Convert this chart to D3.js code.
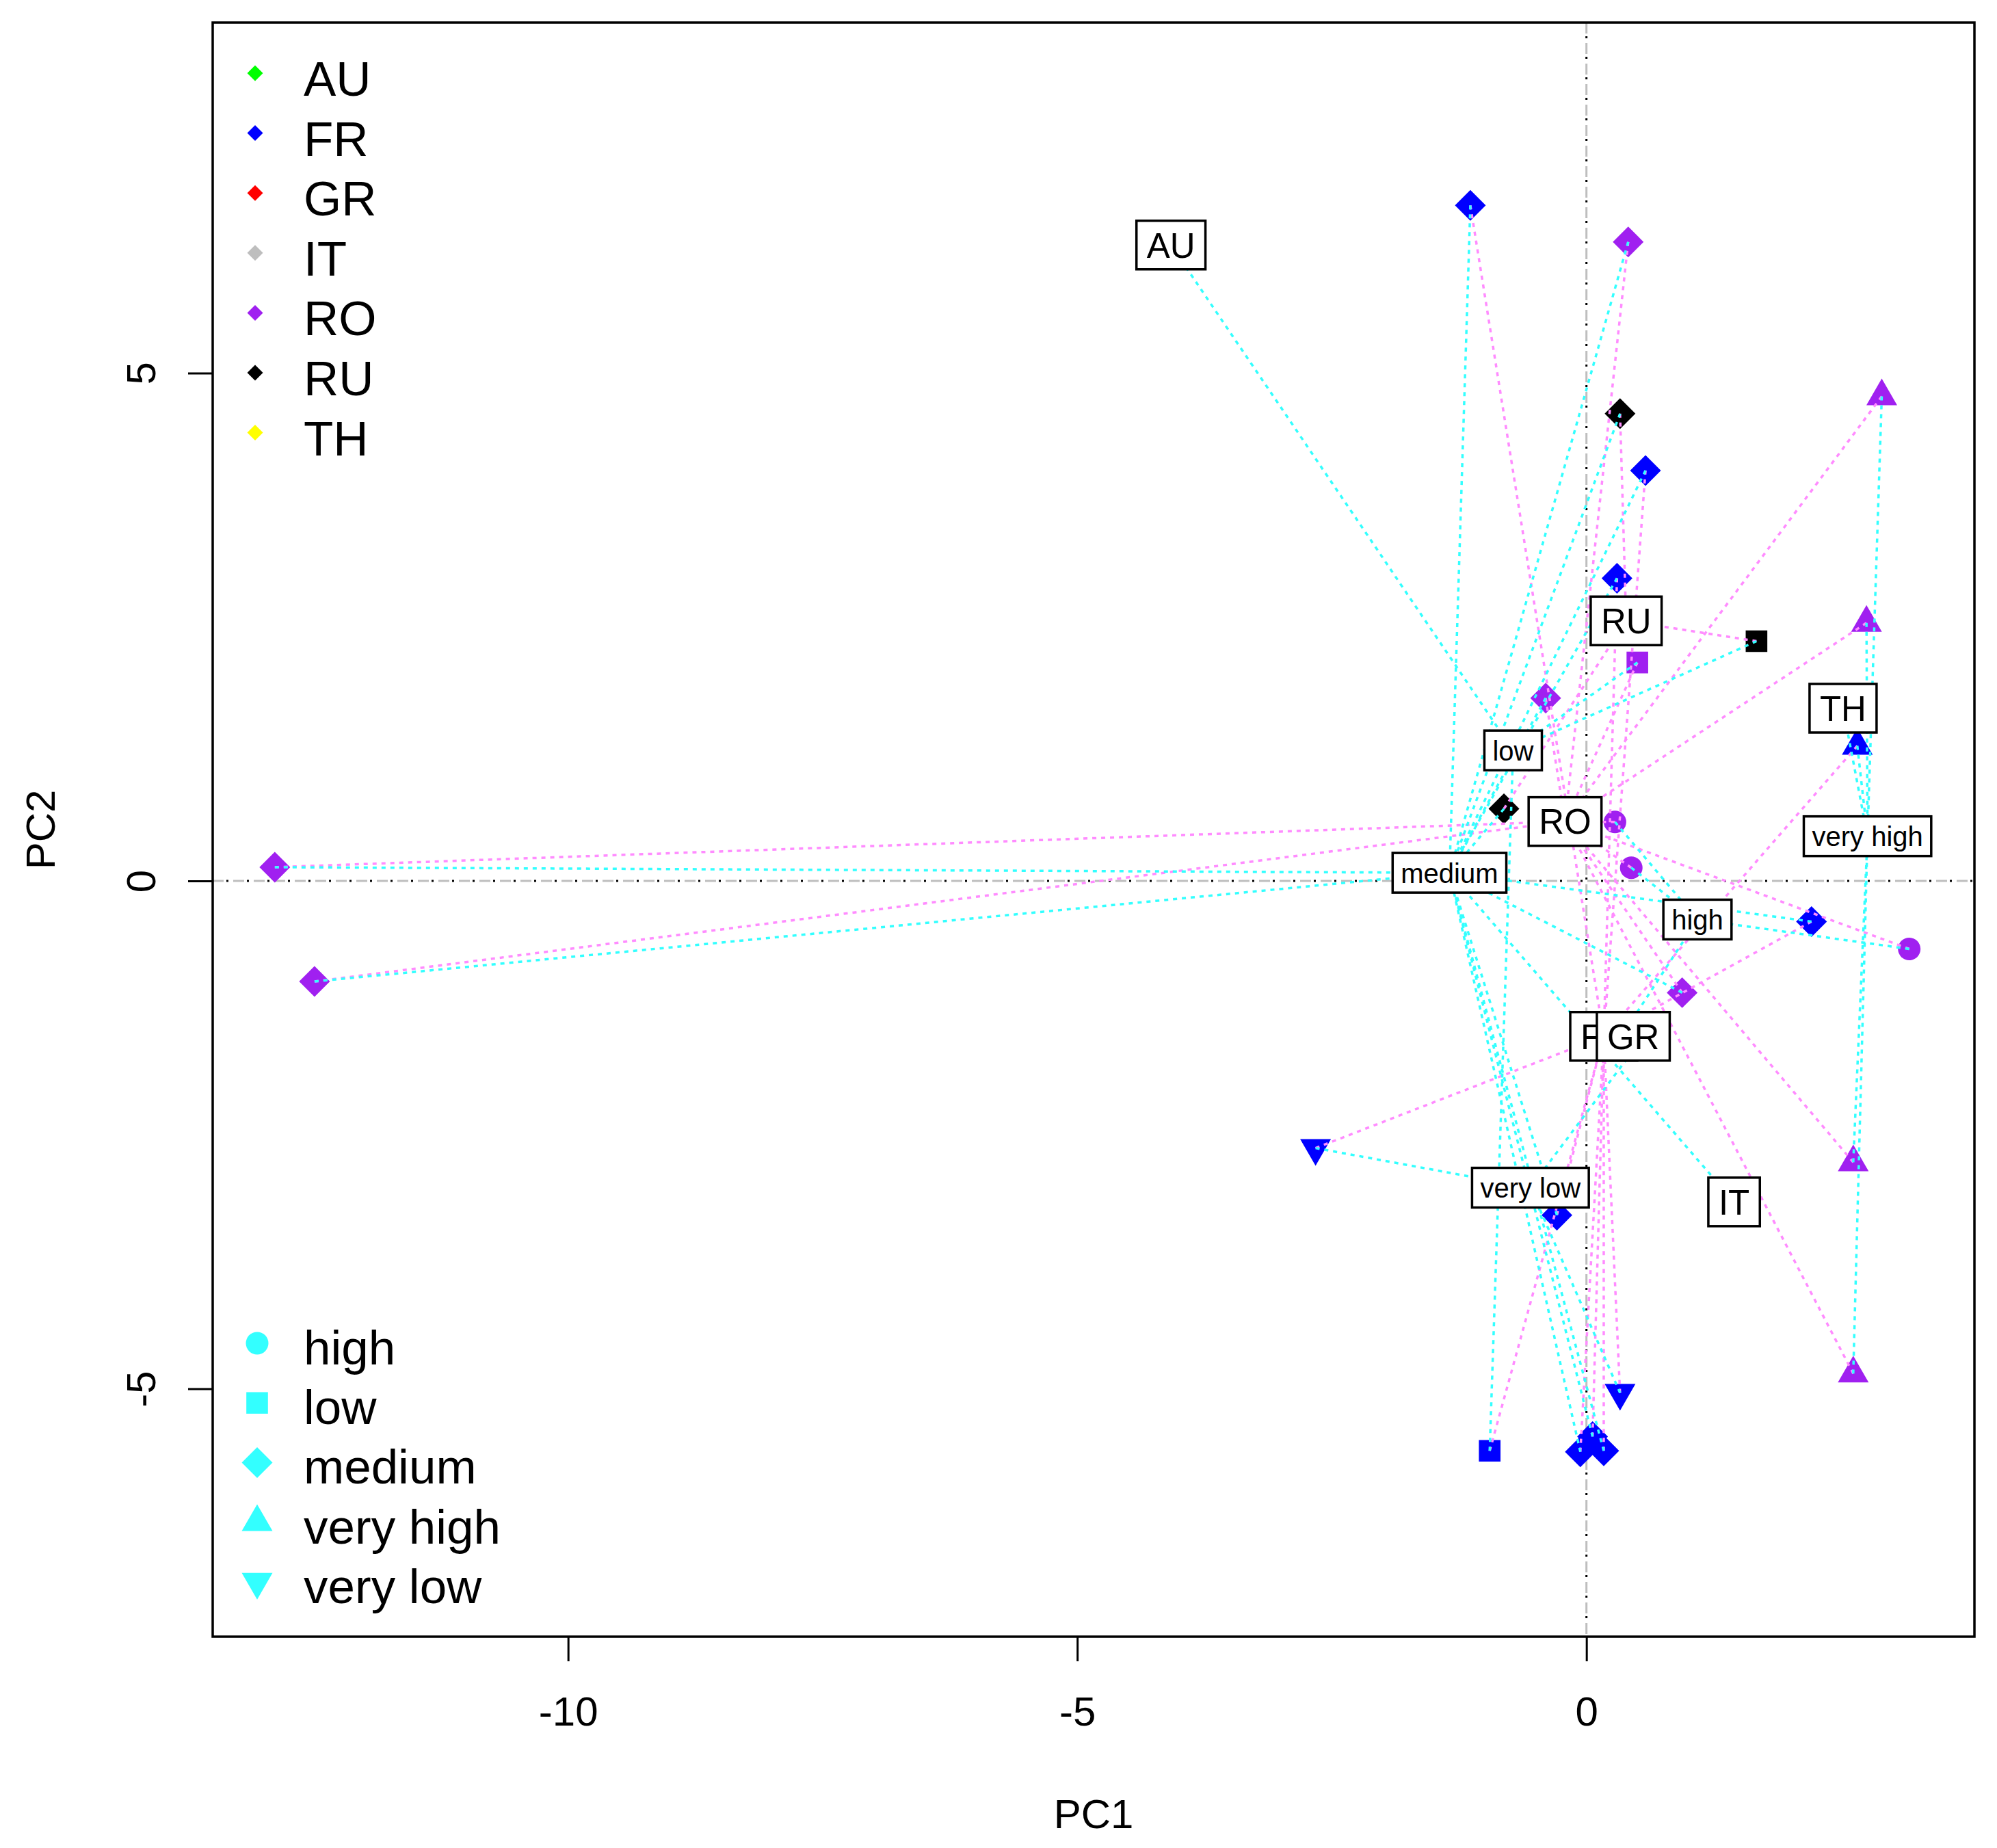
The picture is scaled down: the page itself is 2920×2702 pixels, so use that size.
<!DOCTYPE html>
<html>
<head>
<meta charset="utf-8">
<script src="https://cdn.jsdelivr.net/npm/d3@7"></script>
<style>
  body { margin: 0; background: #fff; }
  text { font-family: "Liberation Sans", Arial, sans-serif; fill: #000; }
</style>
</head>
<body>
<svg id="chart"></svg>
<script>
// countries and their colours
const countries = ["AU", "FR", "GR", "IT", "RO", "RU", "TH"];
const countryColors = ["#00ff00", "#0000ff", "#ff0000", "#bebebe", "#a020f0", "#000000", "#ffff00"];
// class labels (centres)
const countryX = [-4.08, 0.17, 0.46, 1.45, -0.21, 0.39, 2.52];
const countryY = [6.26, -1.53, -1.53, -3.16, 0.585, 2.56, 1.70];

const levels = ["high", "low", "medium", "very high", "very low"];
const levelX = [1.09, -0.72, -1.345, 2.76, -0.55];
const levelY = [-0.38, 1.285, 0.08, 0.44, -3.02];

// individual scores
const pc1 = [-1.14, 0.41, 2.90, 0.33, 0.58, 0.30, 1.67, 0.50, 2.75, -0.40,
             2.66, -0.81, 0.28, 0.44, -12.88, -12.49, 2.21, 3.17, 0.94, -2.66,
             2.62, -0.29, 2.62, 0.33, -0.95, -0.06, 0.17, 0.06,
             -4.08, 0.26, 0.66, 1.45, 2.52];
const pc2 = [6.65, 6.29, 4.77, 4.60, 4.04, 2.98, 2.36, 2.15, 2.54, 1.80,
             1.33, 0.71, 0.58, 0.13, 0.135, -0.99, -0.40, -0.67, -1.10, -2.63,
             -2.77, -3.29, -4.85, -5.04, -5.61, -5.62, -5.61, -5.47,
             6.26, -1.66, -1.40, -3.16, 1.70];
const pointCountry = ["FR", "RO", "RO", "RU", "FR", "FR", "RU", "RO", "RO", "RO",
                      "FR", "RU", "RO", "RO", "RO", "RO", "FR", "RO", "RO", "FR",
                      "RO", "FR", "RO", "FR", "FR", "FR", "FR", "FR",
                      "AU", "GR", "GR", "IT", "TH"];
const pointLevel = ["medium", "medium", "very high", "medium", "medium", "medium", "low", "low", "very high", "medium",
                    "very high", "medium", "high", "high", "medium", "medium", "medium", "high", "medium", "very low",
                    "very high", "medium", "very high", "very low", "low", "medium", "medium", "medium",
                    "low", "high", "very low", "medium", "very high"];

const xTicks = [-10, -5, 0];
const yTicks = [-5, 0, 5];

const W = 2920, H = 2702;
const box = { left: 311, right: 2887, top: 33, bottom: 2393 };

const svg = d3.select("#chart").attr("width", W).attr("height", H);

const x = d3.scaleLinear().domain([-13.49, 3.81]).range([box.left, box.right]);
const y = d3.scaleLinear().domain([8.45, -7.44]).range([box.top, box.bottom]);

// R-like diamond (square turned 45 degrees)
const diamond = {
  draw(ctx, size) {
    const r = Math.sqrt(size / 2);
    ctx.moveTo(0, -r); ctx.lineTo(r, 0); ctx.lineTo(0, r); ctx.lineTo(-r, 0); ctx.closePath();
  }
};
const levelShape = {
  "high": [d3.symbolCircle, 855, 0],
  "low": [d3.symbolSquare, 1000, 0],
  "medium": [diamond, 1012, 0],
  "very high": [d3.symbolTriangle, 877, 0],
  "very low": [d3.symbolTriangle, 877, 180]
};
const colorOf = d3.scaleOrdinal().domain(countries).range(countryColors);
const cIdx = c => countries.indexOf(c);
const lIdx = l => levels.indexOf(l);

// zero lines
const zero = svg.append("g");
function zeroLine(x1, y1, x2, y2) {
  zero.append("line").attr("x1", x1).attr("y1", y1).attr("x2", x2).attr("y2", y2)
    .attr("stroke", "#bebebe").attr("stroke-width", 3).attr("stroke-dasharray", "16 14");
  zero.append("line").attr("x1", x1).attr("y1", y1).attr("x2", x2).attr("y2", y2)
    .attr("stroke", "#000").attr("stroke-width", 3).attr("stroke-dasharray", "3 27")
    .attr("stroke-dashoffset", -20);
}
zeroLine(box.left, y(0), box.right, y(0));
zeroLine(x(0), box.top, x(0), box.bottom);

const idx = d3.range(pc1.length);

// points
svg.append("g").selectAll("path")
  .data(idx)
  .enter().append("path")
  .attr("d", i => d3.symbol().type(levelShape[pointLevel[i]][0]).size(levelShape[pointLevel[i]][1])())
  .attr("transform", i => `translate(${x(pc1[i])},${y(pc2[i])}) rotate(${levelShape[pointLevel[i]][2]})`)
  .attr("fill", i => colorOf(pointCountry[i]));

// country stars (pink) then level stars (cyan)
svg.append("g").selectAll("line")
  .data(idx)
  .enter().append("line")
  .attr("x1", i => x(pc1[i])).attr("y1", i => y(pc2[i]))
  .attr("x2", i => x(countryX[cIdx(pointCountry[i])]))
  .attr("y2", i => y(countryY[cIdx(pointCountry[i])]))
  .attr("stroke", "#ff8cff").attr("stroke-width", 3.5).attr("stroke-dasharray", "6 7");

svg.append("g").selectAll("line")
  .data(idx)
  .enter().append("line")
  .attr("x1", i => x(pc1[i])).attr("y1", i => y(pc2[i]))
  .attr("x2", i => x(levelX[lIdx(pointLevel[i])]))
  .attr("y2", i => y(levelY[lIdx(pointLevel[i])]))
  .attr("stroke", "#33ffff").attr("stroke-width", 3.5).attr("stroke-dasharray", "6 7");

// boxed labels
function boxedLabels(names, xs, ys, fs, pad, h) {
  const g = svg.append("g");
  names.forEach((name, i) => {
    const lg = g.append("g").attr("transform", `translate(${x(xs[i])},${y(ys[i])})`);
    const r = lg.append("rect");
    const t = lg.append("text").attr("text-anchor", "middle").attr("font-size", fs)
      .attr("y", fs * 0.36).text(name);
    const w = t.node().getComputedTextLength() + 2 * pad;
    r.attr("x", -w / 2).attr("y", -h / 2).attr("width", w).attr("height", h)
      .attr("fill", "#fff").attr("stroke", "#000").attr("stroke-width", 3.5);
  });
}
boxedLabels(countries, countryX, countryY, 51, 15, 71);
boxedLabels(levels, levelX, levelY, 40, 12, 58);

// axes (plain hyphen for negatives, like R)
const fmt = d => String(d);
const xAxis = svg.append("g")
  .attr("transform", `translate(0,${box.bottom})`)
  .call(d3.axisBottom(x).tickValues(xTicks).tickFormat(fmt).tickSize(36).tickSizeOuter(0))
  .attr("font-size", null).attr("font-family", null);
xAxis.select(".domain").remove();
xAxis.selectAll("line").attr("stroke-width", 3);
xAxis.selectAll("text").attr("dy", null).attr("y", 130).attr("font-size", 60);

const yAxis = svg.append("g")
  .attr("transform", `translate(${box.left},0)`)
  .call(d3.axisLeft(y).tickValues(yTicks).tickFormat(fmt).tickSize(36).tickSizeOuter(0))
  .attr("font-size", null).attr("font-family", null);
yAxis.select(".domain").remove();
yAxis.selectAll("line").attr("stroke-width", 3);
yAxis.selectAll("text").attr("x", null).attr("dy", null)
  .attr("text-anchor", "middle").attr("transform", "translate(-84,0) rotate(-90)")
  .attr("font-size", 60);

// plot frame
svg.append("rect").attr("x", box.left).attr("y", box.top)
  .attr("width", box.right - box.left).attr("height", box.bottom - box.top)
  .attr("fill", "none").attr("stroke", "#000").attr("stroke-width", 3.5);

// axis titles
svg.append("text").attr("x", (box.left + box.right) / 2).attr("y", 2673)
  .attr("text-anchor", "middle").attr("font-size", 60).text("PC1");
svg.append("text").attr("transform", `translate(80,${(box.top + box.bottom) / 2}) rotate(-90)`)
  .attr("text-anchor", "middle").attr("font-size", 60).text("PC2");

// legend: countries
const leg1 = svg.append("g");
countries.forEach((c, i) => {
  const base = 140 + i * 87.6;
  leg1.append("path").attr("d", d3.symbol().type(diamond).size(265)())
    .attr("transform", `translate(373,${base - 33})`).attr("fill", countryColors[i]);
  leg1.append("text").attr("x", 444).attr("y", base).attr("font-size", 71).text(c);
});

// legend: levels
const leg2 = svg.append("g");
levels.forEach((l, i) => {
  const base = 1995 + i * 87.2;
  const s = levelShape[l];
  leg2.append("path").attr("d", d3.symbol().type(s[0]).size(s[1])())
    .attr("transform", `translate(376,${base - 31}) rotate(${s[2]})`).attr("fill", "#33ffff");
  leg2.append("text").attr("x", 444).attr("y", base).attr("font-size", 71).text(l);
});
</script>
</body>
</html>
